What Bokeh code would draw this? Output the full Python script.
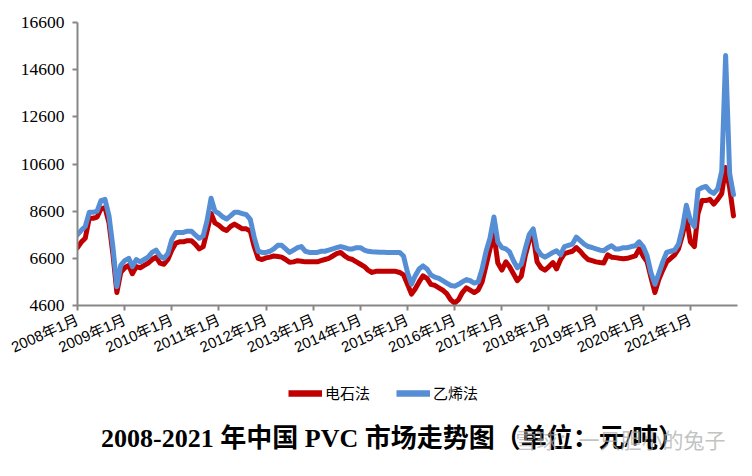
import pandas as pd
from bokeh.plotting import figure
from bokeh.layouts import column
from bokeh.models import (FixedTicker, Legend, LegendItem, Label, Range1d,
                          CustomJSTickFormatter, ColumnDataSource)
from bokeh.embed import file_html
from bokeh.resources import INLINE

# ---------------- data (monthly, Jan 2008 - Dec 2021, 元/吨) ----------------
first_month = "2008-01-01"

carbide = [  # 电石法
    7050, 7300, 7450, 8300, 8300, 8350, 8700, 8750, 8100, 6800, 5150, 6000,   # 2008
    6200, 6300, 5950, 6250, 6200, 6300, 6400, 6550, 6650, 6400, 6350, 6550,   # 2009
    6950, 7250, 7300, 7300, 7350, 7350, 7200, 7000, 7100, 7750, 8500, 8100,   # 2010
    8000, 7850, 7780, 7950, 8050, 7950, 7850, 7850, 7750, 7100, 6600, 6550,   # 2011
    6620, 6650, 6700, 6680, 6650, 6550, 6430, 6450, 6500, 6480, 6450, 6450,   # 2012
    6450, 6450, 6500, 6550, 6600, 6700, 6800, 6850, 6700, 6600, 6550, 6450,   # 2013
    6350, 6250, 6100, 6000, 6050, 6050, 6050, 6050, 6050, 6050, 6000, 5900,   # 2014
    5500, 5080, 5300, 5600, 5860, 5750, 5500, 5450, 5350, 5250, 5100, 4850,   # 2015
    4700, 4850, 5150, 5350, 5250, 5150, 5250, 5600, 6300, 7000, 7600, 6400,   # 2016
    6100, 6450, 6250, 5950, 5650, 5850, 6700, 7350, 7550, 6450, 6200, 6100,   # 2017
    6250, 6420, 6150, 6550, 6800, 6850, 6900, 7050, 6900, 6700, 6550, 6500,   # 2018
    6450, 6420, 6400, 6750, 6650, 6630, 6600, 6580, 6600, 6650, 6700, 7000,   # 2019
    6700, 6450, 5800, 5150, 5700, 6100, 6450, 6600, 6750, 7000, 7600, 8350,   # 2020
    7300, 7100, 8500, 9050, 9050, 9100, 8900, 9100, 9350, 10450, 9600, 8400,  # 2021
]

ethylene = [  # 乙烯法
    7600, 7800, 7950, 8550, 8550, 8600, 9050, 9100, 8400, 7100, 5400, 6300,   # 2008
    6500, 6600, 6250, 6550, 6450, 6550, 6650, 6850, 6950, 6700, 6600, 6800,   # 2009
    7400, 7700, 7700, 7700, 7750, 7750, 7600, 7450, 7550, 8200, 9150, 8600,   # 2010
    8500, 8350, 8270, 8400, 8550, 8550, 8500, 8450, 8250, 7500, 6900, 6850,   # 2011
    6850, 6900, 7000, 7150, 7150, 7000, 6850, 6950, 7050, 7100, 6900, 6850,   # 2012
    6850, 6850, 6900, 6900, 6950, 7000, 7050, 7100, 7050, 7000, 7000, 7050,   # 2013
    7050, 6950, 6900, 6880, 6870, 6860, 6860, 6850, 6850, 6850, 6850, 6700,   # 2014
    6000, 5500, 5850, 6150, 6280, 6150, 5900, 5800, 5750, 5650, 5550, 5450,   # 2015
    5420, 5500, 5600, 5700, 5650, 5550, 5600, 6150, 6900, 7450, 8350, 7300,   # 2016
    7050, 7000, 6880, 6500, 6200, 6350, 7000, 7600, 7850, 7000, 6750, 6650,   # 2017
    6750, 6850, 6920, 6750, 7100, 7150, 7200, 7500, 7350, 7200, 7100, 7060,   # 2018
    7000, 6950, 6920, 7050, 7130, 7000, 7000, 7050, 7050, 7100, 7130, 7300,   # 2019
    7100, 6700, 6000, 5500, 5950, 6450, 6850, 6900, 6950, 7200, 7900, 8850,   # 2020
    8200, 7950, 9500, 9600, 9650, 9450, 9350, 9550, 10300, 15200, 10200, 9300,  # 2021
]

tick_years = [2008, 2009, 2010, 2011, 2012, 2013, 2014,
              2015, 2016, 2017, 2018, 2019, 2020, 2021]
y_ticks = [4600, 6600, 8600, 10600, 12600, 14600, 16600]

series_names = ["电石法", "乙烯法"]
series_colors = ["#C00000", "#558ED5"]
title_text = "2008-2021 年中国 PVC 市场走势图（单位：元/吨）"
watermark_text = "雪球：一只胆小的兔子"

# ---------------- chart ----------------
W = 752
H_CHART = 372
H_FOOT = 476 - H_CHART
LEFT, RIGHT = 77, 15

dates = pd.date_range(first_month, periods=len(carbide), freq="MS")
src = ColumnDataSource(dict(date=dates, carbide=carbide, ethylene=ethylene))

p = figure(width=W, height=H_CHART, output_backend="svg", toolbar_location=None,
           x_axis_type="datetime",
           x_range=Range1d(pd.Timestamp("2008-01-01"), pd.Timestamp("2022-01-01")),
           y_range=Range1d(4600, 16600),
           min_border_left=LEFT, min_border_right=RIGHT,
           min_border_top=22, min_border_bottom=H_CHART - 305)
p.outline_line_color = None
p.xgrid.visible = False
p.ygrid.visible = False
p.background_fill_color = "white"
p.border_fill_color = "white"

lw = 5
r1 = p.line("date", "carbide", source=src, line_color=series_colors[0],
            line_width=lw, line_join="round", line_cap="round")
r2 = p.line("date", "ethylene", source=src, line_color=series_colors[1],
            line_width=lw, line_join="round", line_cap="round")

axis_gray = "#878787"
xt = [pd.Timestamp(f"{y}-01-01").value / 1e6 for y in tick_years]
p.xaxis.ticker = FixedTicker(ticks=xt)
p.xaxis.formatter = CustomJSTickFormatter(code="""
    const d = new Date(tick);
    return d.getUTCFullYear() + "年" + (d.getUTCMonth() + 1) + "月";
""")
p.xaxis.major_label_orientation = 0.42
p.xaxis.major_label_text_font = "Liberation Sans, Noto Sans CJK SC"
p.xaxis.major_label_text_font_size = "15px"
p.xaxis.major_label_standoff = 8

p.yaxis.ticker = FixedTicker(ticks=y_ticks)
p.yaxis.major_label_text_font = "Liberation Serif"
p.yaxis.major_label_text_font_size = "17.5px"
p.yaxis.major_label_standoff = 8

for ax in (p.xaxis, p.yaxis):
    ax.axis_line_color = axis_gray
    ax.axis_line_width = 2
    ax.major_tick_line_color = axis_gray
    ax.major_tick_line_width = 2
    ax.major_tick_out = 5
    ax.major_tick_in = 0
    ax.minor_tick_line_color = None
    ax.major_label_text_color = "black"

# ---------------- footer: legend, title, watermark ----------------
f = figure(width=W, height=H_FOOT, output_backend="svg", toolbar_location=None,
           x_range=Range1d(0, W - LEFT - RIGHT), y_range=Range1d(0, H_FOOT),
           min_border_left=LEFT, min_border_right=RIGHT,
           min_border_top=0, min_border_bottom=0,
           x_axis_location=None, y_axis_location=None)
f.outline_line_color = None
f.xgrid.visible = False
f.ygrid.visible = False
f.background_fill_color = "white"
f.border_fill_color = "white"

nan = float("nan")
k1 = f.line(x=[nan], y=[nan], line_color=series_colors[0], line_width=lw + 1.5)
k2 = f.line(x=[nan], y=[nan], line_color=series_colors[1], line_width=lw + 1.5)

legend_center_y = 393 - H_CHART          # from top of footer
legend = Legend(items=[LegendItem(label=series_names[0], renderers=[k1]),
                       LegendItem(label=series_names[1], renderers=[k2])],
                location=(288 - LEFT, H_FOOT - legend_center_y - 10),
                orientation="horizontal",
                label_text_font="Noto Sans CJK SC", label_text_font_size="15px",
                label_text_color="black",
                glyph_width=34, glyph_height=20, label_standoff=3, spacing=26,
                label_height=20, padding=0, margin=0, border_line_color=None,
                background_fill_alpha=0)
f.add_layout(legend, "center")

title_y = H_FOOT - (438 - H_CHART)
f.add_layout(Label(x=392 - LEFT, y=title_y, x_units="screen", y_units="screen",
                   text=title_text, text_align="center", text_baseline="middle",
                   text_font="Liberation Serif, Noto Sans CJK SC",
                   text_font_style="bold", text_font_size="26px",
                   text_color="black"))
f.add_layout(Label(x=515 - LEFT, y=title_y, x_units="screen", y_units="screen",
                   text=watermark_text, text_align="left", text_baseline="middle",
                   text_font="Noto Sans CJK SC", text_font_size="21px",
                   text_color="#a8a8a8", text_alpha=0.7))

layout = column(p, f, spacing=0)
open("out.html", "w").write(file_html(layout, INLINE))
